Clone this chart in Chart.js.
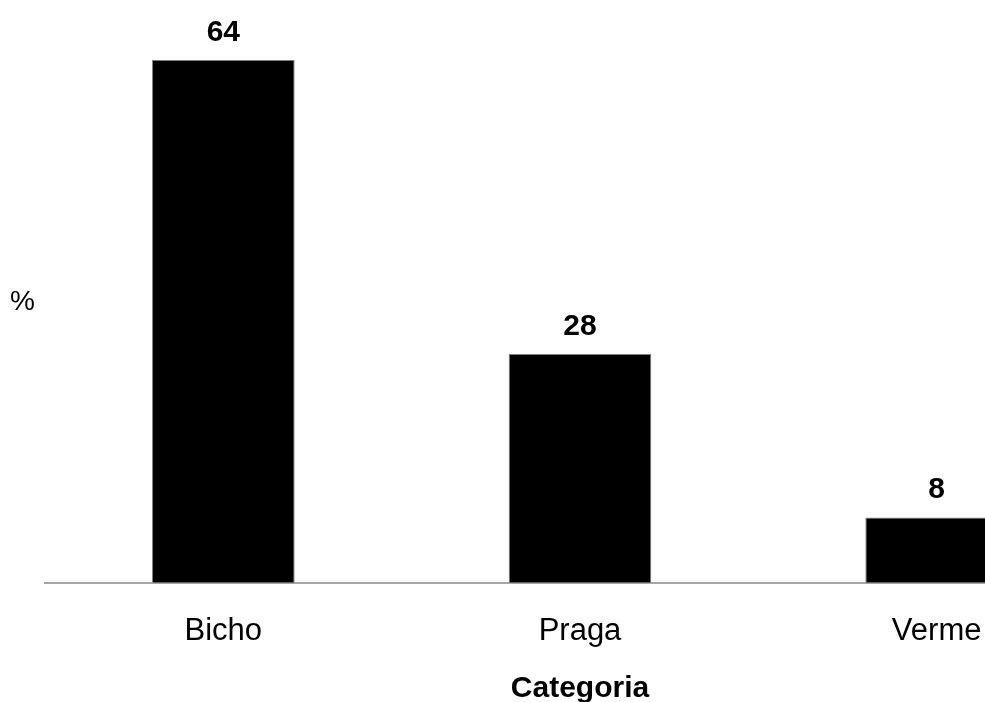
<!DOCTYPE html>
<html>
<head>
<meta charset="utf-8">
<script src="https://cdn.jsdelivr.net/npm/chart.js@4/dist/chart.umd.min.js"></script>
<style>
  html, body { margin: 0; padding: 0; background: #fff; overflow: hidden; }
  #chart { display: block; }
</style>
</head>
<body>
<canvas id="chart" width="1115" height="702"></canvas>
<script>
const categorias = ["Bicho", "Praga", "Verme"];
const percentuais = [64, 28, 8];
const yMin = 0;
const yMax = 70;

const FONT = "'Liberation Sans', Arial, sans-serif";

// value labels above each bar + the "%" caption on the left
const extras = {
  id: "extras",
  afterDatasetsDraw(chart) {
    const ctx = chart.ctx;
    const meta = chart.getDatasetMeta(0);
    ctx.save();
    ctx.fillStyle = "#000";
    ctx.font = "bold 30px " + FONT;
    ctx.textAlign = "center";
    ctx.textBaseline = "alphabetic";
    meta.data.forEach((bar, i) => {
      ctx.fillText(String(percentuais[i]), bar.x, bar.y - 19);
    });
    ctx.font = "28px " + FONT;
    ctx.textAlign = "left";
    ctx.textBaseline = "middle";
    ctx.fillText("%", 10, 302);
    ctx.restore();
  }
};

new Chart(document.getElementById("chart"), {
  type: "bar",
  data: {
    labels: categorias,
    datasets: [{
      data: percentuais,
      backgroundColor: "#000",
      borderColor: "#808080",
      borderWidth: 1,
      barPercentage: 0.8,
      categoryPercentage: 0.5
    }]
  },
  options: {
    responsive: false,
    animation: false,
    layout: { padding: { left: 45, right: 0, top: 11, bottom: -5 } },
    plugins: {
      legend: { display: false },
      tooltip: { enabled: false }
    },
    scales: {
      x: {
        grid: { display: false, drawTicks: false },
        border: { display: true, color: "#a6a6a6", width: 2 },
        ticks: {
          color: "#000",
          padding: 30,
          font: { family: FONT, size: 31 }
        },
        title: {
          display: true,
          text: "Categoria",
          color: "#000",
          padding: { top: -9, bottom: 0 },
          font: { family: FONT, size: 30, weight: "bold" }
        }
      },
      y: {
        display: false,
        min: yMin,
        max: yMax
      }
    }
  },
  plugins: [extras]
});
</script>
</body>
</html>
